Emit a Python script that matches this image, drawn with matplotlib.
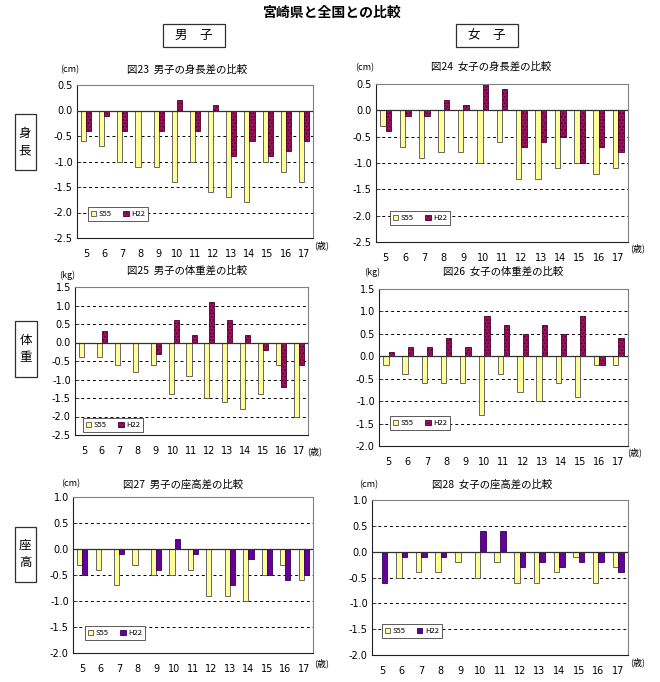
import matplotlib
matplotlib.use("Agg")
import matplotlib.pyplot as plt
import numpy as np
from matplotlib.patches import Rectangle

plt.rcParams['font.family'] = ['Noto Sans CJK JP', 'DejaVu Sans']
plt.rcParams['axes.unicode_minus'] = False
plt.rcParams['hatch.linewidth'] = 0.8

ages = ['5', '6', '7', '8', '9', '10', '11', '12', '13', '14', '15', '16', '17']
series_names = ['S55', 'H22']

# 図23 男子の身長差
m_height_s55 = [-0.6, -0.7, -1.0, -1.1, -1.1, -1.4, -1.0, -1.6, -1.7, -1.8, -1.0, -1.2, -1.4]
m_height_h22 = [-0.4, -0.1, -0.4, 0.0, -0.4, 0.2, -0.4, 0.1, -0.9, -0.6, -0.9, -0.8, -0.6]
# 図24 女子の身長差
f_height_s55 = [-0.3, -0.7, -0.9, -0.8, -0.8, -1.0, -0.6, -1.3, -1.3, -1.1, -1.0, -1.2, -1.1]
f_height_h22 = [-0.4, -0.1, -0.1, 0.2, 0.1, 0.5, 0.4, -0.7, -0.6, -0.5, -1.0, -0.7, -0.8]
# 図25 男子の体重差
m_weight_s55 = [-0.4, -0.4, -0.6, -0.8, -0.6, -1.4, -0.9, -1.5, -1.6, -1.8, -1.4, -0.6, -2.0]
m_weight_h22 = [0.0, 0.3, 0.0, 0.0, -0.3, 0.6, 0.2, 1.1, 0.6, 0.2, -0.2, -1.2, -0.6]
# 図26 女子の体重差
f_weight_s55 = [-0.2, -0.4, -0.6, -0.6, -0.6, -1.3, -0.4, -0.8, -1.0, -0.6, -0.9, -0.2, -0.2]
f_weight_h22 = [0.1, 0.2, 0.2, 0.4, 0.2, 0.9, 0.7, 0.5, 0.7, 0.5, 0.9, -0.2, 0.4]
# 図27 男子の座高差
m_sit_s55 = [-0.3, -0.4, -0.7, -0.3, -0.5, -0.5, -0.4, -0.9, -0.9, -1.0, -0.5, -0.3, -0.6]
m_sit_h22 = [-0.5, 0.0, -0.1, 0.0, -0.4, 0.2, -0.1, 0.0, -0.7, -0.2, -0.5, -0.6, -0.5]
# 図28 女子の座高差
f_sit_s55 = [0.0, -0.5, -0.4, -0.4, -0.2, -0.5, -0.2, -0.6, -0.6, -0.4, -0.1, -0.6, -0.3]
f_sit_h22 = [-0.6, -0.1, -0.1, -0.1, 0.0, 0.4, 0.4, -0.3, -0.2, -0.3, -0.2, -0.2, -0.4]

W, H = 660, 682
fig = plt.figure(figsize=(W / 100, H / 100), dpi=100)
fig.patch.set_facecolor('white')

def fx(x):
    return x / W

def fy(y):
    return 1 - y / H

panels = [
    dict(box=(77, 85, 313, 238), s55=m_height_s55, h22=m_height_h22, ylim=(-2.5, 0.5),
         title='図23  男子の身長差の比較', tpos=(187, 70), unit='(cm)', upos=(70, 70),
         agepos=(322, 245), leg=(88, 207), hatch=True),
    dict(box=(376, 84, 628, 242), s55=f_height_s55, h22=f_height_h22, ylim=(-2.5, 0.5),
         title='図24  女子の身長差の比較', tpos=(491, 67), unit='(cm)', upos=(365, 68),
         agepos=(638, 248), leg=(390, 211), hatch=True),
    dict(box=(75, 287, 308, 435), s55=m_weight_s55, h22=m_weight_h22, ylim=(-2.5, 1.5),
         title='図25  男子の体重差の比較', tpos=(187, 271), unit='(kg)', upos=(67, 275),
         agepos=(315, 451), leg=(83, 418), hatch=True),
    dict(box=(379, 289, 628, 446), s55=f_weight_s55, h22=f_weight_h22, ylim=(-2.0, 1.5),
         title='図26  女子の体重差の比較', tpos=(503, 272), unit='(kg)', upos=(372, 272),
         agepos=(635, 452), leg=(390, 416), hatch=True),
    dict(box=(73, 497, 313, 653), s55=m_sit_s55, h22=m_sit_h22, ylim=(-2.0, 1.0),
         title='図27  男子の座高差の比較', tpos=(183, 485), unit='(cm)', upos=(71, 484),
         agepos=(322, 663), leg=(85, 626), hatch=False),
    dict(box=(372, 500, 628, 655), s55=f_sit_s55, h22=f_sit_h22, ylim=(-2.0, 1.0),
         title='図28  女子の座高差の比較', tpos=(492, 485), unit='(cm)', upos=(369, 485),
         agepos=(638, 662), leg=(382, 624), hatch=False),
]

x = np.arange(len(ages))
bw = 0.28

for p in panels:
    x0, y0, x1, y1 = p['box']
    ax = fig.add_axes([fx(x0), fy(y1), (x1 - x0) / W, (y1 - y0) / H])
    ax.set_facecolor('white')
    lo, hi = p['ylim']
    ticks = np.arange(lo, hi + 0.01, 0.5)
    for t in ticks:
        if abs(t) < 1e-9 or abs(t - lo) < 1e-9 or abs(t - hi) < 1e-9:
            continue
        ax.axhline(t, color='black', lw=0.7, ls=(0, (3, 3)), zorder=1)
    ax.axhline(0, color='#303030', lw=0.9, zorder=3)
    ax.bar(x - bw / 2, p['s55'], width=bw, color='#FFFF99', edgecolor='#505050',
           lw=0.6, zorder=2, label=series_names[0])
    if p['hatch']:
        ax.bar(x + bw / 2, p['h22'], width=bw, color='#A0105E', edgecolor='#4A0030',
               lw=0.6, hatch='.....', zorder=2, label=series_names[1])
    else:
        ax.bar(x + bw / 2, p['h22'], width=bw, color='#660099', edgecolor='#300050',
               lw=0.6, zorder=2, label=series_names[1])
    ax.set_xlim(-0.5, len(ages) - 0.5)
    ax.set_ylim(lo, hi)
    ax.set_yticks(ticks)
    ax.set_yticklabels(['%.1f' % t for t in ticks], fontsize=7, family='DejaVu Sans')
    ax.set_xticks(x)
    ax.set_xticklabels(ages, fontsize=7, family='DejaVu Sans')
    ax.tick_params(axis='x', length=0, pad=8)
    ax.tick_params(axis='y', length=3, width=0.6, pad=3, direction='in', color='#404040')
    for side in ['top', 'right']:
        ax.spines[side].set_color('#808080')
        ax.spines[side].set_linewidth(0.8)
    for side in ['left', 'bottom']:
        ax.spines[side].set_color('#202020')
        ax.spines[side].set_linewidth(0.8)
    fig.text(fx(p['tpos'][0]), fy(p['tpos'][1]), p['title'], ha='center', va='center', fontsize=7.5)
    fig.text(fx(p['upos'][0]), fy(p['upos'][1]), p['unit'], ha='center', va='center', fontsize=6.5)
    fig.text(fx(p['agepos'][0]), fy(p['agepos'][1]), '(歳)', ha='center', va='center', fontsize=6.5)
    leg = ax.legend(loc='upper left', bbox_to_anchor=(fx(p['leg'][0]), fy(p['leg'][1])),
                    bbox_transform=fig.transFigure, ncol=2, fontsize=5.5, frameon=True,
                    fancybox=False, edgecolor='#404040', framealpha=1, handlelength=0.7,
                    handleheight=0.7, handletextpad=0.3, columnspacing=1.5,
                    borderpad=0.4, borderaxespad=0)
    leg.get_frame().set_linewidth(0.6)
    leg.set_zorder(5)

# main title and section headers
fig.text(fx(331), fy(13), '宮崎県と全国との比較', ha='center', va='center', fontsize=10, fontweight='bold')

def boxed(cx, cy, w, h, s, fs=9):
    fig.patches.append(Rectangle((fx(cx - w / 2), fy(cy + h / 2)), w / W, h / H,
                                 transform=fig.transFigure, fill=False,
                                 edgecolor='#303030', lw=0.9))
    fig.text(fx(cx), fy(cy), s, ha='center', va='center', fontsize=fs, linespacing=1.4)

boxed(194, 35, 62, 23, '男　子')
boxed(487, 35, 62, 23, '女　子')
boxed(25, 142, 21, 56, '身\n長')
boxed(26, 349, 22, 56, '体\n重')
boxed(25, 554, 21, 55, '座\n高')

fig.savefig('out.png', dpi=100, facecolor='white')
